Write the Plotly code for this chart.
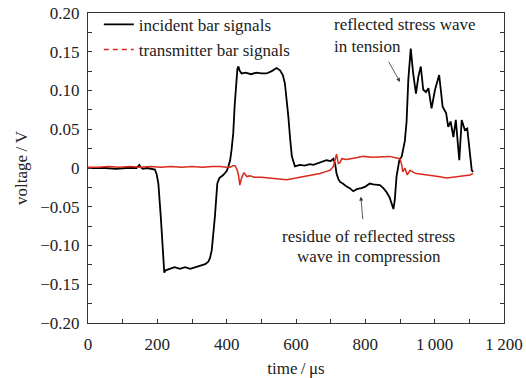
import plotly.graph_objects as go

# ---------------- data ----------------
inc_t = [0, 20, 50, 80, 110, 140, 148, 152, 158, 170, 185, 193, 198, 203, 210, 217, 220, 224, 235, 250,
         265, 280, 295, 310, 320, 328, 338, 347, 352, 357, 362, 366, 373, 379, 390, 400, 405, 410, 414, 419,
         423, 427, 431, 434, 437, 443, 455, 470, 485, 500, 515, 530, 544, 554, 562, 568, 573, 578, 583, 588,
         597, 611, 625, 640, 650, 665, 680, 688, 700, 708, 713, 717, 722, 727, 735, 746, 755, 765, 777, 789,
         800, 813, 823, 835, 842, 852, 861, 870, 876, 881, 885, 890, 898, 905, 914, 919, 924, 931, 938, 946,
         953, 960, 967, 975, 982, 991, 1001, 1013, 1023, 1033, 1039, 1046, 1054, 1061, 1071, 1078, 1087, 1094,
         1107, 1111]
inc_v = [0.000, 0.000, 0.000, -0.001, 0.000, 0.000, 0.004, 0.001, -0.001, 0.000, -0.001, -0.002, -0.008, -0.020,
         -0.063, -0.123, -0.135, -0.132, -0.130, -0.128, -0.130, -0.128, -0.130, -0.128, -0.127, -0.125, -0.124,
         -0.121, -0.116, -0.106, -0.085, -0.063, -0.020, -0.013, -0.009, -0.004, 0.002, 0.010, 0.023, 0.045,
         0.080, 0.109, 0.128, 0.131, 0.126, 0.122, 0.123, 0.121, 0.123, 0.122, 0.122, 0.125, 0.129, 0.126,
         0.120, 0.109, 0.090, 0.066, 0.038, 0.015, 0.002, 0.004, 0.003, 0.005, 0.004, 0.006, 0.008, 0.010,
         0.009, 0.012, 0.005, -0.007, -0.014, -0.018, -0.020, -0.024, -0.026, -0.030, -0.027, -0.026, -0.024,
         -0.020, -0.021, -0.022, -0.022, -0.026, -0.031, -0.038, -0.046, -0.053, -0.041, -0.011, 0.010, 0.015,
         0.035, 0.060, 0.114, 0.154, 0.122, 0.096, 0.118, 0.131, 0.101, 0.098, 0.103, 0.077, 0.101, 0.120,
         0.079, 0.071, 0.053, 0.060, 0.040, 0.062, 0.010, 0.062, 0.049, 0.051, -0.003, -0.005]

tra_t = [0, 30, 60, 90, 120, 150, 180, 210, 240, 270, 300, 330, 360, 381, 400, 410, 418, 424, 430, 434,
         438, 443, 450, 458, 467, 480, 500, 525, 550, 573, 600, 621, 645, 669, 690, 698, 708, 712, 717, 722,
         727, 732, 746, 770, 794, 820, 846, 871, 890, 900, 905, 908, 914, 921, 929, 940, 948, 965, 986, 1010,
         1035, 1050, 1063, 1085, 1102, 1111]
tra_v = [0.001, 0.001, 0.002, 0.001, 0.002, 0.001, 0.002, 0.001, 0.002, 0.001, 0.002, 0.001, 0.002, 0.002,
         0.001, 0.001, 0.003, 0.003, -0.002, -0.009, -0.022, -0.013, -0.006, -0.011, -0.010, -0.012, -0.012,
         -0.013, -0.014, -0.015, -0.013, -0.011, -0.009, -0.007, -0.004, -0.003, 0.002, 0.010, 0.018, 0.006,
         0.007, 0.012, 0.011, 0.013, 0.015, 0.014, 0.015, 0.015, 0.013, 0.012, 0.004, -0.005, 0.000, -0.009,
         -0.003, -0.006, -0.007, -0.008, -0.009, -0.011, -0.013, -0.012, -0.011, -0.010, -0.009, -0.007]

x_tickvals = [0, 200, 400, 600, 800, 1000, 1200]
x_ticktext = ["0", "200", "400", "600", "800", "1\u2009000", "1\u2009200"]
y_tickvals = [0.20, 0.15, 0.10, 0.05, 0, -0.05, -0.10, -0.15, -0.20]
y_ticktext = ["0.20", "0.15", "0.10", "0.05", "0", "\u22120.05", "\u22120.10", "\u22120.15", "\u22120.20"]

FONT = "Liberation Serif, Times New Roman, serif"
FS = 17

fig = go.Figure()
fig.add_trace(go.Scatter(x=inc_t, y=inc_v, mode="lines", name="incident bar signals",
                         line=dict(color="black", width=1.8)))
fig.add_trace(go.Scatter(x=tra_t, y=tra_v, mode="lines", name="transmitter bar signals",
                         line=dict(color="#d92b1c", width=1.5), showlegend=False))
fig.add_trace(go.Scatter(x=[None], y=[None], mode="lines", name="transmitter bar signals",
                         line=dict(color="#d92b1c", width=1.6, dash="5px,4px")))

axis_common = dict(showgrid=False, zeroline=False, showline=True, linecolor="#333", linewidth=1.2,
                   ticks="inside", ticklen=4, tickcolor="#333", automargin=False,
                   tickfont=dict(family=FONT, size=FS, color="#222"))

fig.update_xaxes(range=[0, 1200], tickmode="array", tickvals=x_tickvals, ticktext=x_ticktext,
                 mirror=True, ticklabelstandoff=5,
                 minor=dict(dtick=100, ticks="inside", ticklen=4, tickcolor="#333"),
                 title=dict(text="time\u2009/\u2009\u03bcs", font=dict(family=FONT, size=FS, color="#222"),
                            standoff=13),
                 **axis_common)
fig.update_yaxes(range=[-0.2, 0.2], tickmode="array", tickvals=y_tickvals, ticktext=y_ticktext,
                 mirror="ticks", ticklabelstandoff=4,
                 minor=dict(dtick=0.025, ticks="inside", ticklen=4, tickcolor="#333"),
                 title=dict(text="voltage\u2009/\u2009V", font=dict(family=FONT, size=FS, color="#222"),
                            standoff=8),
                 **axis_common)

ann_font = dict(family=FONT, size=FS, color="#222")
fig.add_annotation(x=704, y=0.185, xref="x", yref="y", text="reflected stress wave", showarrow=False,
                   xanchor="left", yanchor="middle", font=ann_font)
fig.add_annotation(x=704, y=0.157, xref="x", yref="y", text="in tension", showarrow=False,
                   xanchor="left", yanchor="middle", font=ann_font)
fig.add_annotation(x=810, y=-0.089, xref="x", yref="y", text="residue of reflected stress", showarrow=False,
                   xanchor="center", yanchor="middle", font=ann_font)
fig.add_annotation(x=810, y=-0.114, xref="x", yref="y", text="wave in compression", showarrow=False,
                   xanchor="center", yanchor="middle", font=ann_font)
# arrows
fig.add_annotation(x=900, y=0.111, ax=865, ay=0.139, xref="x", yref="y", axref="x", ayref="y",
                   text="", showarrow=True, arrowhead=2, arrowsize=1, arrowwidth=0.8, arrowcolor="#333")
fig.add_annotation(x=787, y=-0.037, ax=793, ay=-0.068, xref="x", yref="y", axref="x", ayref="y",
                   text="", showarrow=True, arrowhead=2, arrowsize=1, arrowwidth=0.8, arrowcolor="#333")

fig.update_layout(
    width=526, height=378,
    margin=dict(l=88, r=22, t=13, b=55, autoexpand=False),
    paper_bgcolor="white", plot_bgcolor="white",
    font=dict(family=FONT, size=FS, color="#222"),
    legend=dict(x=0.026, y=1.02, xanchor="left", yanchor="top", bgcolor="rgba(0,0,0,0)",
                font=dict(family=FONT, size=FS, color="#222"), itemwidth=30, tracegroupgap=0),
)

fig.write_html("out.html")
